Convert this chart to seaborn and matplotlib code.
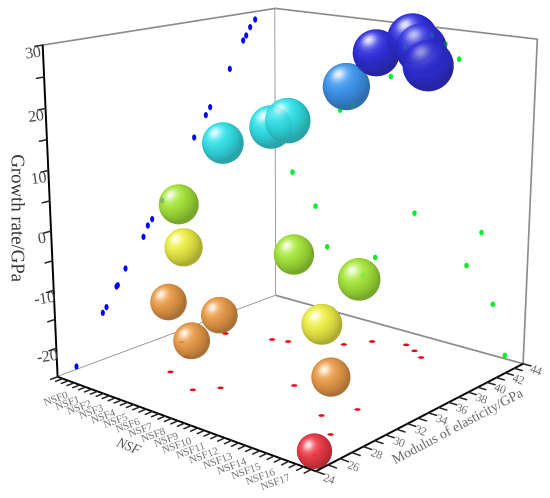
import io
import numpy as np
import pandas as pd
import matplotlib
matplotlib.use('Agg')
import matplotlib.pyplot as plt
import seaborn as sns
from matplotlib.markers import MarkerStyle
from matplotlib.path import Path
from matplotlib.transforms import Affine2D
from mpl_toolkits.mplot3d import proj3d

nsf_names = ['NSF%d' % i for i in range(18)]
modulus = [33.1, 36.1, 31.4, 29.0, 37.2, 37.6, 27.8, 29.1, 39.5, 41.1, 32.2, 42.0, 41.5, 40.8, 29.8, 31.8, 28.1, 25.5]
growth = [0.0, 9.7, -5.5, -12.8, 13.2, 14.5, -16.6, -12.6, 20.6, 26.0, -2.8, 28.6, 27.4, 25.2, -10.1, -3.7, -15.8, -24.4]
bubble_px = [19, 20, 18, 17, 21, 22, 17, 17, 23, 23, 19, 25, 25, 25, 19, 20, 18, 16]

level_edges = [-20, -11, -4, 5, 17, 23]
level_colors = ['#e8202e', '#e48c30', '#e8e82c', '#98e020', '#18dce4', '#2488ec', '#1414d8']

modulus_ticks = list(range(24, 45, 2))
growth_ticks = [-20, -10, 0, 10, 20, 30]

x_lim = (-1.46, 18.31)
y_lim = (24, 44)
z_lim = (-25, 30)
ELEV, AZIM = 15.48, -49.55

e_, a_ = np.radians(ELEV), np.radians(AZIM)
VIEW = np.array([np.cos(e_) * np.cos(a_), np.cos(e_) * np.sin(a_), np.sin(e_)])
RIGHT = np.array([-np.sin(a_), np.cos(a_), 0])
UP = np.cross(VIEW, RIGHT)


def ellipse(w, h):
    """Flattened dot, the shadows lie on the walls."""
    return MarkerStyle(Path.unit_circle().transformed(Affine2D().scale(w, h)))


def draw_sphere(ax, x, y, z, size, color, alpha, zorder, lw=0.3, n=40):
    """Shaded sphere around one data point, size is the radius in pixels."""
    # how many pixels one growth unit takes at this depth
    M = ax.get_proj()
    pts = [proj3d.proj_transform(x, y, z + d, M)[:2] for d in (-1, 1)]
    px = ax.transData.transform(pts)
    rz = size / (np.hypot(*(px[1] - px[0])) / 2)
    rx = rz * (x_lim[1] - x_lim[0]) / (z_lim[1] - z_lim[0])
    ry = rz * (y_lim[1] - y_lim[0]) / (z_lim[1] - z_lim[0])

    th, ph = np.meshgrid(np.linspace(0, np.pi, n + 1), np.linspace(0, 2 * np.pi, 2 * n + 1))
    ux, uy, uz = np.sin(th) * np.cos(ph), np.sin(th) * np.sin(ph), np.cos(th)

    # lighting on face centres
    tc = (th[:-1, :-1] + th[1:, 1:]) / 2
    pc = (ph[:-1, :-1] + ph[1:, 1:]) / 2
    nrm = np.stack([np.sin(tc) * np.cos(pc), np.sin(tc) * np.sin(pc), np.cos(tc)], axis=-1)
    light = -0.36 * RIGHT + 0.46 * UP + 0.81 * VIEW
    light = light / np.linalg.norm(light)
    diff = np.clip(nrm @ light, 0, 1)
    rgb = np.array(color) * (0.70 + 0.36 * diff)[..., None]
    glow = (0.72 * diff ** 20 + 0.18 * diff ** 5)[..., None]
    rgb = np.clip(rgb * (1 - glow) + glow, 0, 1) * 0.9 + 0.1
    al = np.where(nrm @ VIEW > 0, alpha, 0.0)
    fc = np.dstack([rgb, al])

    ax.plot_surface(x + rx * ux, y + ry * uy, z + rz * uz, facecolors=fc, rstride=1, cstride=1,
                    linewidth=lw, antialiased=True, shade=False, zorder=zorder)


def draw_shadows(ax, df, alpha, zorder):
    """Blue, green and red projections on the three walls."""
    ax.scatter(np.full(18, x_lim[0]), df['modulus'], df['growth'], marker=ellipse(0.65, 1), s=20,
               c='#0000ff', linewidths=0, depthshade=False, alpha=alpha, zorder=zorder)
    ax.scatter(df['nsf'], np.full(18, y_lim[1]), df['growth'], marker=ellipse(0.8, 1), s=16,
               c='#00f028', linewidths=0, depthshade=False, alpha=alpha, zorder=zorder)
    ax.scatter(df['nsf'], df['modulus'], np.full(18, z_lim[0]), marker=ellipse(1, 0.42), s=20,
               c='#f00014', linewidths=0, depthshade=False, alpha=alpha, zorder=zorder)


sns.set_theme(style='white')
plt.rcParams['font.family'] = ['Liberation Serif', 'DejaVu Serif']

df = pd.DataFrame({'nsf': range(18), 'modulus': modulus, 'growth': growth, 'size': bubble_px})
palette = sns.color_palette(level_colors)
df['level'] = np.digitize(df['growth'], level_edges)
df['depth'] = df['nsf'] * VIEW[0] / 19 + df['modulus'] * VIEW[1] / 20 + df['growth'] * VIEW[2] / 55

fig = plt.figure(figsize=(5.5, 4.98), dpi=100, facecolor='white')
ax = fig.add_subplot(projection='3d', computed_zorder=False, facecolor='none')
ax.set_position([-0.0012, -0.0136, 1.0397, 1.1483])
ax.set_xlim(*x_lim, view_margin=0)
ax.set_ylim(*y_lim, view_margin=0)
ax.set_zlim(*z_lim, view_margin=0)
ax.set_box_aspect((1.0037, 0.9959, 1))
ax.view_init(ELEV, AZIM)
ax.set_proj_type('persp', focal_length=0.4838)
ax.grid(False)

for axis in (ax.xaxis, ax.yaxis, ax.zaxis):
    axis.set_pane_color((1, 1, 1, 1))
    axis.pane.set_edgecolor('#8c8c8c')
    axis.pane.set_linewidth(1.2)
    axis.line.set_color('black')
    axis.line.set_linewidth(1.4)
    axis._axinfo['tick'].update(inward_factor=0.35, outward_factor=0.0)
    axis._axinfo['tick']['linewidth'] = {True: 1.1, False: 1.0}
    axis._axinfo['tick']['color'] = 'black'

x_tick_pos = np.arange(-1, 18.5, 0.5)
ax.set_xticks(x_tick_pos)
ax.set_xticklabels([nsf_names[int(t)] if t >= 0 and t == int(t) and t < 18 else '' for t in x_tick_pos],
                   rotation=20, fontsize=7.8, color='#6e6e6e', ha='right', va='top')
ax.set_yticks(np.arange(24, 45, 1))
ax.set_yticklabels([str(t) if t in modulus_ticks else '' for t in range(24, 45)],
                   rotation=-20, fontsize=8.5, color='#6e6e6e', ha='left', va='center')
ax.set_zticks(np.arange(-25, 31, 5))
ax.set_zticklabels([str(t) if t in growth_ticks else '' for t in range(-25, 31, 5)],
                   rotation=8, fontsize=11.5, color='#444444')
ax.zaxis.set_ticks_position('lower')
ax.tick_params(axis='x', pad=-4)
ax.tick_params(axis='y', pad=-4)
ax.tick_params(axis='z', pad=-4)

fig.canvas.draw()

draw_shadows(ax, df, 1.0, 2)

# opaque pass in depth order, then a faint pass back to front so hidden things show through
for row in df.itertuples():
    draw_sphere(ax, row.nsf, row.modulus, row.growth, row.size, palette[row.level], 1.0, 10 + row.depth)
draw_shadows(ax, df, 0.28, 20)
for row in df.itertuples():
    draw_sphere(ax, row.nsf, row.modulus, row.growth, row.size, palette[row.level], 0.25, 30 - row.depth, lw=0)

fig.text(16 / 550, 1 - 218 / 498, 'Growth rate/GPa', rotation=270, fontsize=13.5, color='#333333',
         ha='center', va='center')
fig.text(128 / 550, 1 - 447 / 498, 'NSF', rotation=-22, fontsize=10, style='italic', color='#555555',
         ha='center', va='center')
fig.text(458 / 550, 1 - 427 / 498, 'Modulus of elasticity/GPa', rotation=28, fontsize=10, color='#666666',
         ha='center', va='center')

buf = io.BytesIO()
fig.savefig(buf, format='png', dpi=300)
buf.seek(0)
img = plt.imread(buf)[:, :, :3]
h, w = img.shape[0] // 3, img.shape[1] // 3
small = img[:h * 3, :w * 3].reshape(h, 3, w, 3, 3).mean(axis=(1, 3))
plt.imsave('out.png', small)
